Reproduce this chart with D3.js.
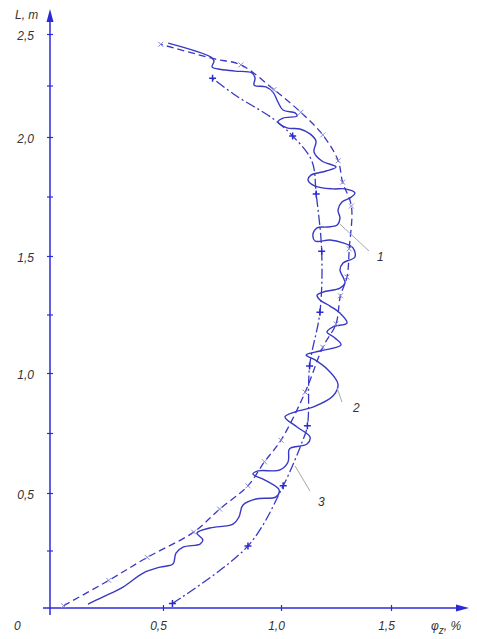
<!DOCTYPE html>
<html><head><meta charset="utf-8">
<script src="https://cdn.jsdelivr.net/npm/d3@7"></script>
<style>body{margin:0;background:#fff}svg{display:block}</style>
</head><body>
<script>
// ---- data (φz in %, L in m) ----
const yMajorTicks = [0.5, 1.0, 1.5, 2.0, 2.5];
const yMinorTicks = [0.25, 0.75, 1.25, 1.75, 2.25];
const xMajorTicks = [0.5, 1.0, 1.5];
const tickLabel = v => d3.format(".1f")(v).replace(".", ",");

// curve 1: dashed with × markers
const curve1 = [[0.06,0.01],[0.26,0.12],[0.43,0.22],[0.63,0.33],[0.74,0.43],[0.86,0.53],[0.93,0.63],[1.00,0.72],
  [1.11,0.92],[1.19,1.11],[1.25,1.21],[1.27,1.33],[1.30,1.41],[1.31,1.53],[1.32,1.71],[1.28,1.81],[1.26,1.90],
  [1.19,2.01],[1.09,2.12],[0.97,2.23],[0.83,2.35],[0.715,2.38],[0.49,2.45]];
const curve1Markers = [[0.06,0.01],[0.26,0.12],[0.43,0.22],[0.63,0.33],[0.74,0.43],[0.86,0.53],[0.93,0.63],[1.00,0.72],
  [1.11,0.92],[1.19,1.11],[1.25,1.21],[1.27,1.33],[1.30,1.41],[1.31,1.53],[1.32,1.71],[1.28,1.81],[1.26,1.90],
  [1.19,2.01],[1.09,2.12],[0.97,2.23],[0.83,2.35],[0.49,2.45]];

// curve 3: dash-dot with + markers
const curve3 = [[0.54,0.02],[0.86,0.27],[1.01,0.53],[1.095,0.71],[1.12,0.78],[1.13,1.03],[1.177,1.26],[1.185,1.52],
  [1.16,1.76],[1.14,1.90],[1.053,2.005],[0.965,2.09],[0.81,2.20],[0.71,2.285]];
const curve3Markers = [[0.54,0.02],[0.86,0.27],[1.01,0.53],[1.12,0.78],[1.13,1.03],[1.177,1.26],[1.185,1.52],
  [1.16,1.76],[1.053,2.005],[0.71,2.285]];

// curve 2: solid, measured (wavy)
const curve2 = [[0.168,0.017],[0.235,0.048],[0.323,0.091],[0.412,0.152],[0.487,0.178],[0.542,0.191],[0.555,0.239],
  [0.585,0.265],[0.657,0.278],[0.669,0.296],[0.644,0.326],[0.699,0.348],[0.797,0.365],[0.822,0.396],[0.839,0.448],
  [0.894,0.474],[0.979,0.483],[0.992,0.513],[0.932,0.554],[0.881,0.579],[0.903,0.592],[0.996,0.596],[1.032,0.629],
  [1.036,0.679],[1.045,0.688],[1.118,0.704],[1.132,0.733],[1.073,0.775],[1.018,0.817],[1.064,0.838],[1.145,0.858],
  [1.236,0.904],[1.259,0.954],[1.214,1.013],[1.155,1.056],[1.114,1.077],[1.177,1.094],[1.273,1.120],[1.245,1.150],
  [1.209,1.175],[1.236,1.197],[1.300,1.214],[1.268,1.256],[1.223,1.286],[1.177,1.312],[1.164,1.333],[1.191,1.346],
  [1.268,1.363],[1.291,1.385],[1.282,1.410],[1.268,1.440],[1.282,1.470],[1.336,1.496],[1.327,1.534],[1.282,1.555],
  [1.223,1.567],[1.155,1.563],[1.145,1.588],[1.164,1.618],[1.209,1.622],[1.255,1.630],[1.268,1.660],[1.259,1.693],
  [1.277,1.727],[1.314,1.744],[1.336,1.765],[1.291,1.782],[1.236,1.782],[1.155,1.794],[1.123,1.819],[1.136,1.840],
  [1.205,1.857],[1.250,1.874],[1.186,1.899],[1.150,1.937],[1.159,1.983],[1.132,2.015],[1.086,2.039],[1.027,2.044],
  [0.987,2.073],[1.009,2.092],[1.073,2.102],[1.064,2.117],[1.009,2.131],[0.987,2.170],[0.966,2.218],[0.936,2.243],
  [0.886,2.252],[0.890,2.286],[0.877,2.311],[0.805,2.320],[0.733,2.330],[0.708,2.340],[0.716,2.369],[0.703,2.388],
  [0.522,2.456]];

// callouts: [label, from, to, text position]
const callouts = [
  ["1", [1.268,1.634], [1.40,1.521], [1.436,1.496]],
  ["2", [1.255,0.9375], [1.277,0.879], [1.327,0.854]],
  ["3", [1.064,0.6125], [1.132,0.508], [1.168,0.461]]
];

// ---- drawing ----
const W = 477, H = 639;
const svg = d3.select("body").append("svg").attr("width", W).attr("height", H);
const x = d3.scaleLinear().domain([0, 0.5, 1.0, 1.5]).range([50, 163, 281, 391]);
const y = d3.scaleLinear().domain([0, 0.5, 1.0, 1.5, 2.0, 2.5]).range([608, 493, 373, 256, 137, 34]);

const axisCol = "#2b2bd6", lineCol = "#3838c4", font = "'Liberation Sans', Arial, sans-serif";

// y axis
const yAxis = d3.axisLeft(y).tickValues(yMajorTicks.concat(yMinorTicks)).tickSize(3)
  .tickFormat(v => yMajorTicks.includes(v) ? tickLabel(v) : "");
const gy = svg.append("g").attr("transform", `translate(${x(0)},0)`).call(yAxis);
gy.select(".domain").remove();
gy.selectAll(".tick line").attr("x1", -3).attr("x2", 3).attr("stroke", axisCol).attr("stroke-width", 1.2);
gy.selectAll(".tick text").attr("x", -16).attr("dy", "0.45em").attr("fill", "#333")
  .style("font-family", font).style("font-size", "12px").style("font-style", "italic");
svg.append("line").attr("x1", x(0)).attr("x2", x(0)).attr("y1", 615).attr("y2", 18)
  .attr("stroke", axisCol).attr("stroke-width", 1.5);
svg.append("path").attr("d", `M${x(0)},9 L${x(0)-3.5},22 L${x(0)+3.5},22 Z`).attr("fill", axisCol);

// x axis
const xAxis = d3.axisBottom(x).tickValues(xMajorTicks).tickSize(3).tickFormat(tickLabel);
const gx = svg.append("g").attr("transform", `translate(0,${y(0)})`).call(xAxis);
gx.select(".domain").remove();
gx.selectAll(".tick line").attr("y1", -3).attr("y2", 3).attr("stroke", axisCol).attr("stroke-width", 1.2);
gx.selectAll(".tick text").attr("y", 13).attr("dx", "-5").attr("fill", "#333")
  .style("font-family", font).style("font-size", "12px").style("font-style", "italic");
svg.append("line").attr("x1", 43).attr("x2", 458).attr("y1", y(0)).attr("y2", y(0))
  .attr("stroke", axisCol).attr("stroke-width", 1.5);
svg.append("path").attr("d", `M469,${y(0)} L456,${y(0)-3.5} L456,${y(0)+3.5} Z`).attr("fill", axisCol);

// axis titles
const tstyle = s => s.style("font-family", font).style("font-size", "12px").style("font-style", "italic").attr("fill", "#333");
svg.append("text").attr("x", 15).attr("y", 19).text("L, m").call(tstyle);
svg.append("text").attr("x", 14).attr("y", 630).text("0").call(tstyle);
const xt = svg.append("text").attr("x", 431).attr("y", 630).call(tstyle);
xt.append("tspan").text("φ");
xt.append("tspan").attr("dy", 4).style("font-size", "10px").text("z");
xt.append("tspan").attr("dy", -4).text(", %");

// curves
const line = d3.line().x(d => x(d[0])).y(d => y(d[1])).curve(d3.curveCatmullRom.alpha(0.5));
svg.append("path").datum(curve1).attr("d", line).attr("fill", "none")
  .attr("stroke", lineCol).attr("stroke-width", 1.3).attr("stroke-dasharray", "7,4");
svg.append("path").datum(curve3).attr("d", line).attr("fill", "none")
  .attr("stroke", lineCol).attr("stroke-width", 1.3).attr("stroke-dasharray", "10,3,2,3");
svg.append("path").datum(curve2).attr("d", line).attr("fill", "none")
  .attr("stroke", lineCol).attr("stroke-width", 1.4);

// markers
svg.append("g").selectAll("path").data(curve1Markers).join("path")
  .attr("d", d => { const cx = x(d[0]), cy = y(d[1]), s = 2.5;
    return `M${cx-s},${cy-s}L${cx+s},${cy+s}M${cx-s},${cy+s}L${cx+s},${cy-s}`; })
  .attr("stroke", "#8a8ad2").attr("stroke-width", 1);
svg.append("g").selectAll("path").data(curve3Markers).join("path")
  .attr("d", d => { const cx = x(d[0]), cy = y(d[1]), s = 3.5;
    return `M${cx-s},${cy}L${cx+s},${cy}M${cx},${cy-s}L${cx},${cy+s}`; })
  .attr("stroke", "#2a2ad0").attr("stroke-width", 1.5);

// callouts
const cg = svg.append("g");
callouts.forEach(c => {
  cg.append("line").attr("x1", x(c[1][0])).attr("y1", y(c[1][1])).attr("x2", x(c[2][0])).attr("y2", y(c[2][1]))
    .attr("stroke", "#a8a8a8").attr("stroke-width", 1);
  cg.append("text").attr("x", x(c[3][0])).attr("y", y(c[3][1])).attr("dy", "0.35em").text(c[0]).call(tstyle);
});
</script>
</body></html>
